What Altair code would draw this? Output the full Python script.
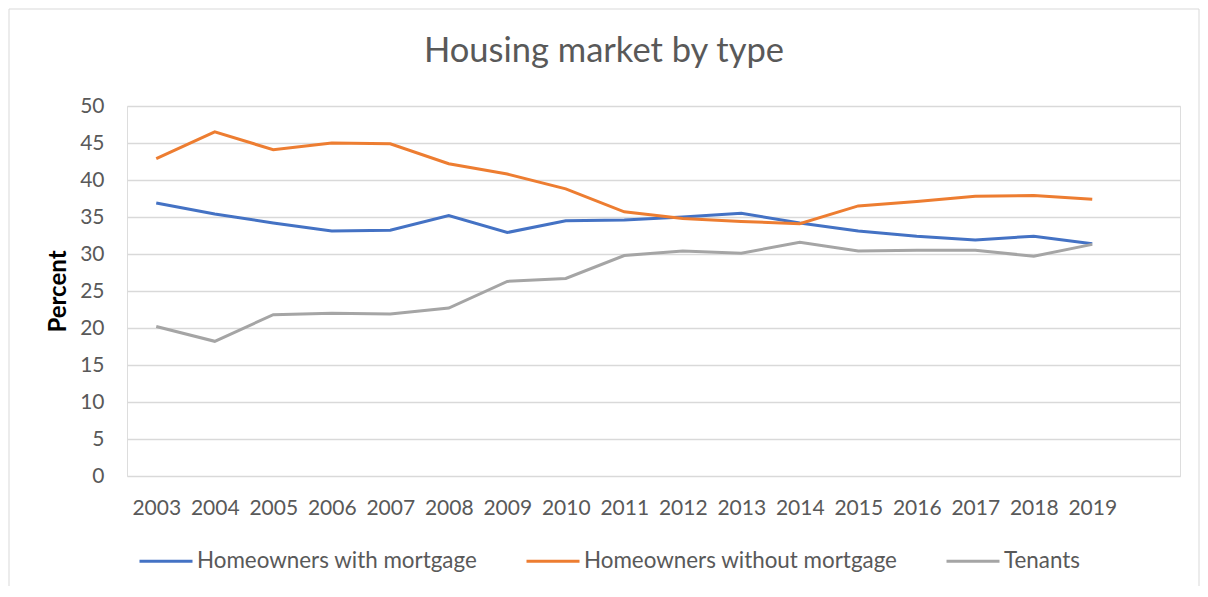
import altair as alt
import pandas as pd

years = list(range(2003, 2020))
with_mortgage = [36.9, 35.4, 34.2, 33.1, 33.2, 35.2, 32.9, 34.5, 34.6, 35.0, 35.5, 34.2, 33.1, 32.4, 31.9, 32.4, 31.4]
without_mortgage = [42.9, 46.5, 44.1, 45.0, 44.9, 42.2, 40.8, 38.8, 35.7, 34.8, 34.4, 34.1, 36.5, 37.1, 37.8, 37.9, 37.4]
tenants = [20.2, 18.2, 21.8, 22.0, 21.9, 22.7, 26.3, 26.7, 29.8, 30.4, 30.1, 31.6, 30.4, 30.5, 30.5, 29.7, 31.3]

series_names = ["Homeowners with mortgage", "Homeowners without mortgage", "Tenants"]
series_colors = ["#4472C4", "#ED7D31", "#A5A5A5"]

rows = []
for name, vals in zip(series_names, [with_mortgage, without_mortgage, tenants]):
    for y, v in zip(years, vals):
        rows.append({"Year": y, "Value": v, "Series": name})
df = pd.DataFrame(rows)

FONT = "Lato"
TEXT = "#595959"

lines = alt.Chart(df).mark_line(strokeWidth=3).encode(
    x=alt.X("Year:Q",
            scale=alt.Scale(domain=[2002.5, 2020.5], nice=False, zero=False),
            axis=alt.Axis(values=years, format="d", grid=False, domain=False, ticks=False,
                          labelPadding=21, labelFontSize=21, labelColor=TEXT, labelFont=FONT,
                          labelFlush=False, labelOverlap=False),
            title=None),
    y=alt.Y("Value:Q",
            scale=alt.Scale(domain=[0, 50], nice=False),
            axis=alt.Axis(values=list(range(0, 51, 5)), grid=True, gridColor="#D9D9D9", gridWidth=1.3,
                          domain=False, ticks=False, labelPadding=23, labelFontSize=21,
                          labelColor=TEXT, labelFont=FONT,
                          title="Percent", titleFont=FONT, titleFontSize=24, titleFontWeight="bold",
                          titleColor="black", titlePadding=9)),
    color=alt.Color("Series:N",
                    scale=alt.Scale(domain=series_names, range=series_colors),
                    legend=alt.Legend(title=None, orient="none", legendX=11, legendY=427,
                                      direction="horizontal", columns=3, columnPadding=42,
                                      symbolType="stroke", symbolSize=2809, symbolStrokeWidth=3,
                                      labelFontSize=22.4, labelColor=TEXT, labelFont=FONT,
                                      labelOffset=3, labelLimit=0)),
)

frame_data = alt.Data(values=[{"a": 1}])
left_border = alt.Chart(frame_data).mark_rule(color="#D9D9D9", strokeWidth=1).encode(
    x=alt.value(-118), y=alt.value(-97), y2=alt.value(480))
top_border = alt.Chart(frame_data).mark_rule(color="#D9D9D9", strokeWidth=1).encode(
    x=alt.value(-118), x2=alt.value(1072), y=alt.value(-97))
right_border = alt.Chart(frame_data).mark_rule(color="#D9D9D9", strokeWidth=1).encode(
    x=alt.value(1072), y=alt.value(-97), y2=alt.value(480))

chart = alt.layer(left_border, top_border, right_border, lines).properties(
    width=1053, height=370,
    padding=0,
    title=alt.TitleParams("Housing market by type", fontSize=34.5, font=FONT, color=TEXT,
                          fontWeight="normal", anchor="middle", frame="bounds",
                          baseline="alphabetic", offset=-88),
).configure_view(stroke=None).configure(background="white")

chart.save("out.html", embed_options={"renderer": "svg", "actions": False})
